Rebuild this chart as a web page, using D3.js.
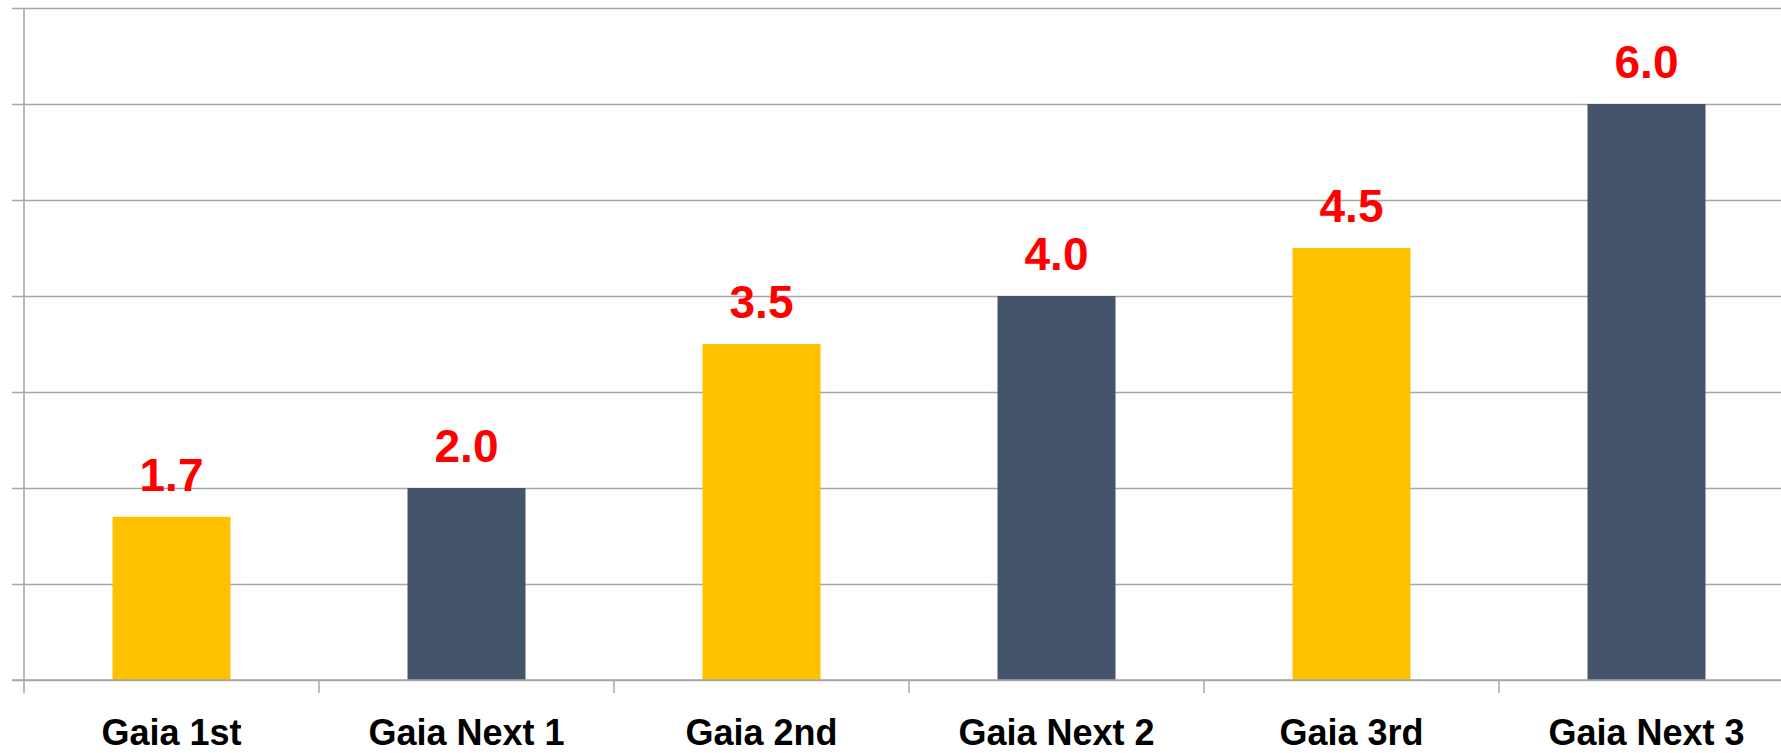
<!DOCTYPE html>
<html><head><meta charset="utf-8">
<script src="https://cdn.jsdelivr.net/npm/d3@7"></script>
<style>html,body{margin:0;padding:0;background:#fff;overflow:hidden;}</style>
</head><body>
<svg id="chart" width="1781" height="753"></svg>
<script>
const categories = ["Gaia 1st","Gaia Next 1","Gaia 2nd","Gaia Next 2","Gaia 3rd","Gaia Next 3"];
const values = [1.7, 2.0, 3.5, 4.0, 4.5, 6.0];
const barColors = ["#FFC000","#44546A","#FFC000","#44546A","#FFC000","#44546A"];
const valueLabels = ["1.7","2.0","3.5","4.0","4.5","6.0"];
const yTicks = [0,1,2,3,4,5,6,7];

(function(){
const svg = d3.select("#chart");
const mLeft = 24, mRight = 1794, mTop = 8, mBottom = 680;
const gridColor = "#a6a6a6";

const x = d3.scaleBand().domain(categories).range([mLeft, mRight]).paddingInner(0.6).paddingOuter(0.3);
const y = d3.scaleLinear().domain([0, 7]).range([mBottom, mTop]);

// horizontal gridlines + left ticks
const yAxis = d3.axisLeft(y).tickValues(yTicks).tickFormat("").tickSizeInner(-(1781 - mLeft)).tickSizeOuter(0);
const gy = svg.append("g").attr("transform", `translate(${mLeft},0)`).call(yAxis);
gy.select(".domain").remove();
gy.selectAll(".tick line").attr("x1", -12).attr("stroke", gridColor).attr("stroke-width", 1.5);

// vertical axis line
svg.append("line").attr("x1", mLeft).attr("x2", mLeft).attr("y1", y(7)).attr("y2", mBottom + 13)
  .attr("stroke", gridColor).attr("stroke-width", 1.5);

// bars
svg.append("g").selectAll("rect").data(categories).join("rect")
  .attr("x", d => x(d)).attr("width", x.bandwidth())
  .attr("y", (d,i) => y(values[i])).attr("height", (d,i) => y(0) - y(values[i]))
  .attr("fill", (d,i) => barColors[i]);

// baseline
svg.append("line").attr("x1", 12).attr("x2", 1781).attr("y1", mBottom).attr("y2", mBottom)
  .attr("stroke", gridColor).attr("stroke-width", 1.5);

// category boundary ticks
const step = x.step();
const boundaries = d3.range(1, categories.length).map(i => mLeft + i * step);
svg.append("g").selectAll("line").data(boundaries).join("line")
  .attr("x1", d => d).attr("x2", d => d).attr("y1", mBottom).attr("y2", mBottom + 13)
  .attr("stroke", gridColor).attr("stroke-width", 1.5);

// category labels
const xAxis = d3.axisBottom(x).tickSize(0).tickPadding(0);
const gx = svg.append("g").attr("transform", `translate(0,${mBottom})`).call(xAxis);
gx.select(".domain").remove();
gx.selectAll(".tick text").attr("y", 65).attr("dy", 0)
  .attr("font-family", "'Liberation Sans', Arial, sans-serif").attr("font-weight", "bold")
  .attr("font-size", 36).attr("fill", "#000");

// value labels
svg.append("g").selectAll("text").data(categories).join("text")
  .attr("x", d => x(d) + x.bandwidth() / 2)
  .attr("y", (d,i) => y(values[i]) - 26)
  .attr("text-anchor", "middle")
  .attr("font-family", "'Liberation Sans', Arial, sans-serif").attr("font-weight", "bold")
  .attr("font-size", 46).attr("fill", "#FF0000")
  .text((d,i) => valueLabels[i]);
})();
</script>
</body></html>
